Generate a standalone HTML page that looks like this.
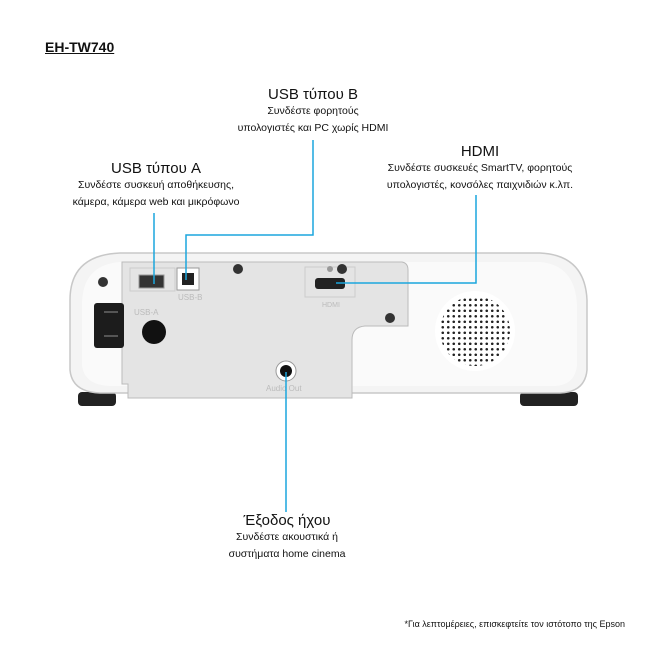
<!DOCTYPE html>
<html><head><meta charset="utf-8"><style>
body{margin:0;width:662px;height:662px;background:#fff;position:relative;overflow:hidden;font-family:"Liberation Sans","Noto Sans CJK SC",sans-serif;color:#111}
.t{position:absolute;text-align:center;transform:translateX(-50%);white-space:nowrap}
.h{font-size:15px}
.s{font-size:10.5px;line-height:17px}
</style></head><body>
<div style="position:absolute;left:45px;top:39px;font-weight:bold;font-size:14px;text-decoration:underline">EH-TW740</div>
<div class="t" style="left:313px;top:86px"><div class="h">USB τύπου B</div><div class="s">Συνδέστε φορητούς<br>υπολογιστές και PC χωρίς HDMI</div></div>
<div class="t" style="left:156px;top:160px"><div class="h">USB τύπου A</div><div class="s">Συνδέστε συσκευή αποθήκευσης,<br>κάμερα, κάμερα web και μικρόφωνο</div></div>
<div class="t" style="left:480px;top:143px"><div class="h">HDMI</div><div class="s">Συνδέστε συσκευές SmartTV, φορητούς<br>υπολογιστές, κονσόλες παιχνιδιών κ.λπ.</div></div>
<div class="t" style="left:287px;top:512px"><div class="h">Έξοδος ήχου</div><div class="s">Συνδέστε ακουστικά ή<br>συστήματα home cinema</div></div>
<div style="position:absolute;right:37px;top:619px;font-size:9px">*Για λεπτομέρειες, επισκεφτείτε τον ιστότοπο της Epson</div>
<svg width="662" height="662" style="position:absolute;left:0;top:0">
<defs>
<pattern id="d" width="5.5" height="5.5" patternUnits="userSpaceOnUse"><circle cx="2.75" cy="2.75" r="1.3" fill="#222"/></pattern>
<clipPath id="c"><circle cx="475" cy="331" r="35"/></clipPath>
</defs>
<rect x="78" y="392" width="38" height="14" rx="4" fill="#222"/>
<rect x="520" y="392" width="58" height="14" rx="4" fill="#222"/>
<path d="M70 300 Q70 255 120 253 L540 253 Q585 255 587 300 L587 370 Q585 392 560 393 L100 393 Q72 392 70 370 Z" fill="#f4f4f4" stroke="#c8c8c8" stroke-width="1.5"/>
<path d="M82 305 Q82 265 120 262 L540 262 Q575 265 577 305 L577 365 Q575 385 555 386 L110 386 Q84 385 82 365 Z" fill="#fafafa"/>
<path d="M122 262 L402 262 Q408 263 408 270 L408 326 L365 326 Q352 327 352 340 L352 398 L128 398 L128 384 L122 384 Z" fill="#e4e4e4" stroke="#bbb"/>
<rect x="94" y="303" width="30" height="45" rx="3" fill="#1c1c1c"/>
<rect x="104" y="311" width="14" height="2" fill="#555"/><rect x="104" y="335" width="14" height="2" fill="#555"/>
<circle cx="154" cy="332" r="12" fill="#111"/>
<rect x="130" y="268" width="45" height="23" fill="none" stroke="#ccc"/>
<rect x="139" y="275" width="25" height="13" fill="#333" stroke="#999"/>
<rect x="177" y="268" width="22" height="22" fill="#fff" stroke="#999"/><rect x="182" y="273" width="12" height="12" fill="#222"/>
<rect x="305" y="267" width="50" height="30" fill="none" stroke="#ccc"/>
<rect x="315" y="278" width="30" height="11" rx="3" fill="#222"/>
<text x="134" y="315" font-size="8" fill="#bbb" font-family="Liberation Sans">USB-A</text>
<text x="178" y="300" font-size="8" fill="#bbb" font-family="Liberation Sans">USB-B</text>
<text x="322" y="307" font-size="7" fill="#bbb" font-family="Liberation Sans">HDMI</text>
<text x="266" y="391" font-size="8" fill="#bbb" font-family="Liberation Sans">Audio Out</text>
<g fill="#333"><circle cx="103" cy="282" r="5"/><circle cx="238" cy="269" r="5"/><circle cx="342" cy="269" r="5"/><circle cx="390" cy="318" r="5"/><circle cx="330" cy="269" r="3" fill="#999"/></g>
<circle cx="286" cy="371" r="10" fill="#fff" stroke="#999"/><circle cx="286" cy="371" r="6" fill="#111"/>
<circle cx="475" cy="331" r="40" fill="#fff"/>
<rect x="435" y="291" width="80" height="80" fill="url(#d)" clip-path="url(#c)"/>
<g fill="none" stroke="#1ba6dd" stroke-width="1.5">
<path d="M154 213 V284"/>
<path d="M313 140 V235 H186 V280"/>
<path d="M476 195 V283 H336"/>
<path d="M286 372 V512"/>
</g>
</svg>
</body></html>
